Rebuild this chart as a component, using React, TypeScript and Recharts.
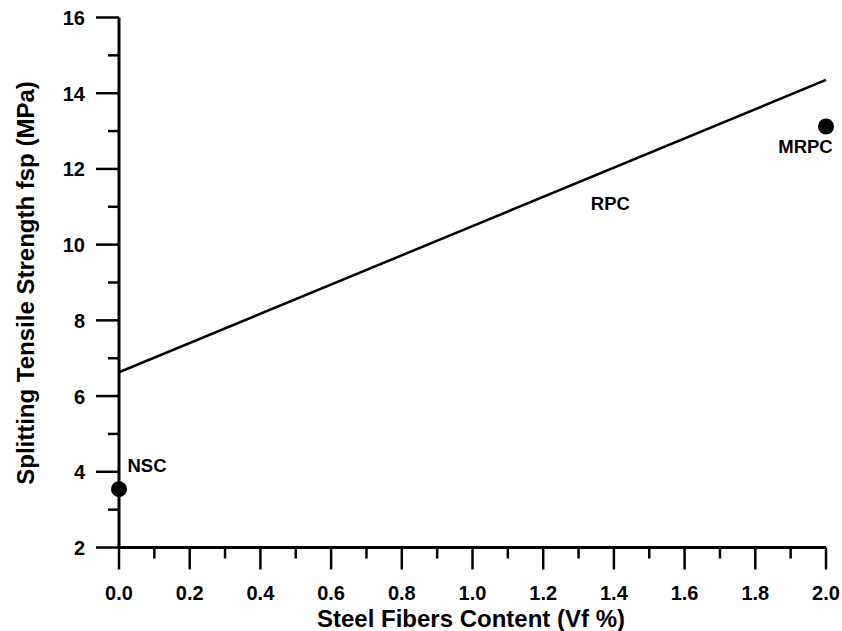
import {
  ComposedChart,
  Line,
  Scatter,
  XAxis,
  YAxis,
  LabelList,
  ReferenceDot,
} from "recharts";

// RPC trend line (fsp vs Vf)
const rpcLine = [
  { vf: 0.0, fsp: 6.63 },
  { vf: 2.0, fsp: 14.35 },
];

// measured single points
const pointNames = ["NSC", "MRPC"];
const pointVf = [0.0, 2.0];
const pointFsp = [3.54, 13.12];

const xTicks = [0, 0.1, 0.2, 0.3, 0.4, 0.5, 0.6, 0.7, 0.8, 0.9, 1.0, 1.1, 1.2, 1.3, 1.4, 1.5, 1.6, 1.7, 1.8, 1.9, 2.0];
const yTicks = [2, 3, 4, 5, 6, 7, 8, 9, 10, 11, 12, 13, 14, 15, 16];

const FONT = "'Liberation Sans', Arial, sans-serif";

const points = pointNames.map((name, i) => ({ name, vf: pointVf[i], fsp: pointFsp[i] }));

function XTick(props: any) {
  const { x, y, payload } = props;
  const major = Math.round(payload.value * 10) % 2 === 0;
  return (
    <g>
      <line x1={x} y1={y} x2={x} y2={y + (major ? 22 : 11)} stroke="#000" strokeWidth={2.5} />
      {major && (
        <text x={x} y={y + 52.5} textAnchor="middle" fontSize={20} fontWeight="bold" fontFamily={FONT} fill="#000">
          {payload.value.toFixed(1)}
        </text>
      )}
    </g>
  );
}

function YTick(props: any) {
  const { x, y, payload } = props;
  const major = payload.value % 2 === 0;
  return (
    <g>
      <line x1={x - (major ? 23 : 11)} y1={y} x2={x} y2={y} stroke="#000" strokeWidth={2.5} />
      {major && (
        <text x={x - 34} y={y + 7.5} textAnchor="end" fontSize={20} fontWeight="bold" fontFamily={FONT} fill="#000">
          {payload.value}
        </text>
      )}
    </g>
  );
}

function PointLabel(props: any) {
  const { x, y, value } = props;
  if (value === "NSC") {
    return (
      <text x={x + 13} y={y - 13} fontSize={18.5} fontWeight="bold" fontFamily={FONT} fill="#000">
        {value}
      </text>
    );
  }
  return (
    <text x={x - 16} y={y + 31} textAnchor="middle" fontSize={18.5} fontWeight="bold" fontFamily={FONT} fill="#000">
      {value}
    </text>
  );
}

export default function App() {
  return (
    <div style={{ position: "absolute", left: 0, top: 0, background: "#fff" }}>
      <ComposedChart width={842} height={631} margin={{ top: 17.5, right: 16, bottom: 23.5, left: 59 }}>
        <XAxis
          type="number"
          dataKey="vf"
          domain={[0, 2]}
          ticks={xTicks}
          interval={0}
          height={60}
          tickSize={0}
          tickMargin={0}
          tickLine={false}
          tick={<XTick />}
          axisLine={{ stroke: "#000", strokeWidth: 3 }}
          label={{
            content: () => (
              <text x={471} y={627} textAnchor="middle" fontSize={24} fontWeight="bold" fontFamily={FONT} fill="#000">
                Steel Fibers Content (Vf %)
              </text>
            ),
          }}
        />
        <YAxis
          type="number"
          dataKey="fsp"
          domain={[2, 16]}
          ticks={yTicks}
          interval={0}
          width={60}
          tickSize={0}
          tickMargin={0}
          tickLine={false}
          tick={<YTick />}
          axisLine={{ stroke: "#000", strokeWidth: 3 }}
          label={{
            content: () => (
              <text
                x={0}
                y={0}
                transform="translate(34, 283) rotate(-90)"
                textAnchor="middle"
                fontSize={24}
                fontWeight="bold"
                fontFamily={FONT}
                fill="#000"
              >
                Splitting Tensile Strength fsp (MPa)
              </text>
            ),
          }}
        />
        <Line
          data={rpcLine}
          dataKey="fsp"
          type="linear"
          stroke="#000"
          strokeWidth={2.5}
          dot={false}
          activeDot={false}
          isAnimationActive={false}
        />
        <Scatter
          data={points}
          dataKey="fsp"
          fill="#000"
          isAnimationActive={false}
          shape={(p: any) => <circle cx={p.cx} cy={p.cy} r={8} fill="#000" />}
        >
          <LabelList dataKey="name" content={<PointLabel />} />
        </Scatter>
        <ReferenceDot
          x={1.39}
          y={10.92}
          r={0}
          fill="none"
          stroke="none"
          label={{
            content: (p: any) => (
              <text
                x={p.viewBox.x + (p.viewBox.width || 0) / 2}
                y={p.viewBox.y + (p.viewBox.height || 0) / 2}
                textAnchor="middle"
                fontSize={18.5}
                fontWeight="bold"
                fontFamily={FONT}
                fill="#000"
              >
                RPC
              </text>
            ),
          }}
        />
      </ComposedChart>
    </div>
  );
}
